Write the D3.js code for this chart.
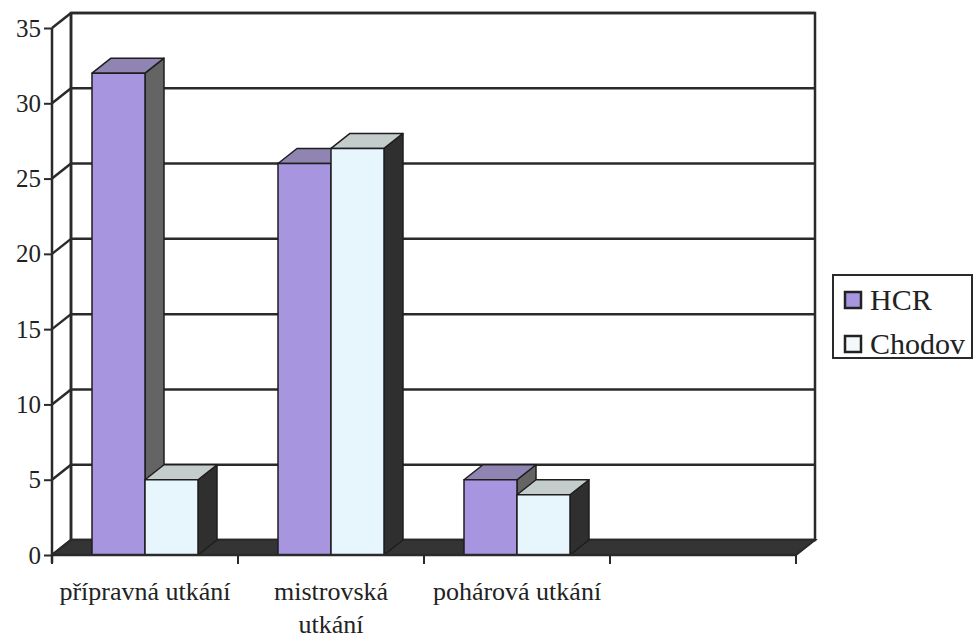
<!DOCTYPE html>
<html>
<head>
<meta charset="utf-8">
<script src="https://cdn.jsdelivr.net/npm/d3@7"></script>
<style>
  body { margin: 0; background: #fff; }
  svg { display: block; }
</style>
</head>
<body>
<svg id="chart" width="974" height="639"></svg>
<script>
// Počty utkání podle typu
const categories = ["přípravná utkání", "mistrovská utkání", "pohárová utkání", ""];
const seriesNames = ["HCR", "Chodov"];
const hcrValues = [32, 26, 5, null];
const chodovValues = [5, 27, 4, null];
const yTicks = [0, 5, 10, 15, 20, 25, 30, 35];

const seriesValues = [hcrValues, chodovValues];
const faceColors = [
  { front: "#a796df", top: "#8f84b2", side: "#646464" },
  { front: "#e7f5fc", top: "#c4cccc", side: "#2f2f2f" }
];

const serif = "'Liberation Serif', Tinos, 'Times New Roman', 'Nimbus Roman', 'DejaVu Serif', serif";

const svg = d3.select("#chart");
const ink = "#2a2a2a";

// 3D projection offset (depth of the plot box)
const dx = 19, dy = -15;

const y = d3.scaleLinear().domain([0, 35]).range([555, 28]);
const x = d3.scaleBand().domain(categories).range([52, 796]);
const x1 = d3.scaleBand().domain(seriesNames).range([40, 146]);

const xL = x.range()[0], xR = x.range()[1];
const y0 = y(0), yTop = y(35);

// back wall
svg.append("polygon")
  .attr("points", [[xL + dx, yTop + dy], [xR + dx, yTop + dy], [xR + dx, y0 + dy], [xL + dx, y0 + dy]].join(" "))
  .attr("fill", "#fff").attr("stroke", ink).attr("stroke-width", 2.5);

// gridlines on the back wall and the side wall
const grid = svg.append("g").attr("fill", "none").attr("stroke", ink).attr("stroke-width", 2.5);
yTicks.forEach(v => {
  grid.append("line")
    .attr("x1", xL + dx).attr("x2", xR + dx)
    .attr("y1", y(v) + dy).attr("y2", y(v) + dy);
  grid.append("line")
    .attr("x1", xL).attr("y1", y(v))
    .attr("x2", xL + dx).attr("y2", y(v) + dy);
});
grid.append("line")
  .attr("x1", xL + dx).attr("x2", xL + dx)
  .attr("y1", yTop + dy).attr("y2", y0 + dy);

// floor
svg.append("polygon")
  .attr("points", [[xL, y0], [xL + dx, y0 + dy], [xR + dx, y0 + dy], [xR, y0]].join(" "))
  .attr("fill", "#343434").attr("stroke", ink).attr("stroke-width", 2);

// bars
const bars = svg.append("g").attr("stroke", "#1e1e1e").attr("stroke-width", 1.5).attr("stroke-linejoin", "round");
categories.forEach((c, i) => {
  seriesNames.forEach((s, j) => {
    const v = seriesValues[j][i];
    if (v == null) return;
    const bx = x(c) + x1(s), w = x1.bandwidth();
    const yt = y(v);
    const col = faceColors[j];
    bars.append("polygon")
      .attr("points", [[bx + w, yt], [bx + w + dx, yt + dy], [bx + w + dx, y0 + dy], [bx + w, y0]].join(" "))
      .attr("fill", col.side);
    bars.append("polygon")
      .attr("points", [[bx, yt], [bx + dx, yt + dy], [bx + w + dx, yt + dy], [bx + w, yt]].join(" "))
      .attr("fill", col.top);
    bars.append("rect")
      .attr("x", bx).attr("y", yt)
      .attr("width", w).attr("height", y0 - yt)
      .attr("fill", col.front);
  });
});

// value axis
const yAxis = svg.append("g")
  .attr("transform", `translate(${xL},0)`)
  .call(d3.axisLeft(y).tickValues(yTicks).tickSize(8).tickPadding(3).tickFormat(d3.format("d")));
yAxis.attr("font-family", serif).attr("font-size", 25);
yAxis.select(".domain").attr("stroke", ink).attr("stroke-width", 2.5).attr("d", `M0,${yTop}V${y0 + 8}`);
yAxis.selectAll(".tick line").attr("stroke", ink).attr("stroke-width", 2);
yAxis.selectAll(".tick text").attr("fill", "#222");

// category axis
const xAxis = svg.append("g").attr("font-family", serif).attr("fill", "#222");
xAxis.append("line")
  .attr("x1", xL).attr("x2", xR).attr("y1", y0).attr("y2", y0)
  .attr("stroke", ink).attr("stroke-width", 2.5);
const boundaries = categories.map(c => x(c)).concat([xR]);
xAxis.selectAll("line.tick").data(boundaries).join("line")
  .attr("class", "tick")
  .attr("x1", d => d).attr("x2", d => d)
  .attr("y1", y0).attr("y2", y0 + 9)
  .attr("stroke", ink).attr("stroke-width", 2);

const maxWidth = x.bandwidth() - 8;
categories.forEach(c => {
  if (!c) return;
  const t = xAxis.append("text")
    .attr("x", x(c) + x.bandwidth() / 2).attr("y", 600)
    .attr("text-anchor", "middle").attr("font-size", 26)
    .text(c);
  if (t.node().getComputedTextLength() > maxWidth) {
    const words = c.split(" ");
    t.text(null);
    words.forEach((wd, k) => {
      t.append("tspan")
        .attr("x", x(c) + x.bandwidth() / 2)
        .attr("dy", k === 0 ? 0 : 33)
        .text(wd);
    });
  }
});

// legend
const legend = svg.append("g").attr("font-family", serif).attr("fill", "#222");
legend.append("rect")
  .attr("x", 833).attr("y", 275).attr("width", 139).attr("height", 83)
  .attr("fill", "#fff").attr("stroke", ink).attr("stroke-width", 2);
const swatchFill = [faceColors[0].front, "#f4f8fa"];
seriesNames.forEach((s, j) => {
  const ly = 300 + j * 44;
  legend.append("rect")
    .attr("x", 845).attr("y", ly - 8).attr("width", 16).attr("height", 16)
    .attr("fill", swatchFill[j]).attr("stroke", "#222").attr("stroke-width", 2.5);
  legend.append("text")
    .attr("x", 870).attr("y", ly + 10)
    .attr("font-size", 30)
    .text(s);
});
</script>
</body>
</html>
